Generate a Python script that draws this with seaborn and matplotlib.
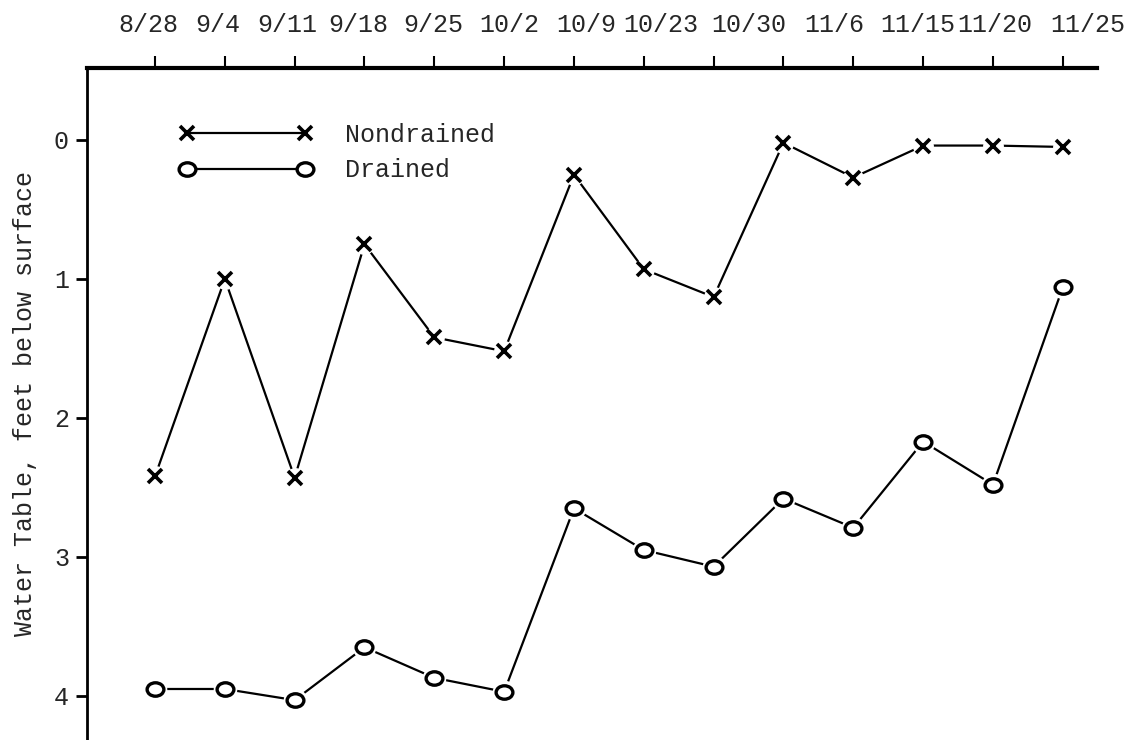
import matplotlib
matplotlib.use('Agg')
import matplotlib.pyplot as plt
import seaborn as sns
from matplotlib.lines import Line2D
from matplotlib.markers import MarkerStyle
from matplotlib.transforms import Affine2D

# readings (feet below surface), one per weekly observation
obs = list(range(14))
nondrained = [2.42, 1.0, 2.43, 0.75, 1.42, 1.52, 0.25, 0.93, 1.13, 0.02, 0.27, 0.04, 0.04, 0.05]
drained = [3.95, 3.95, 4.03, 3.65, 3.87, 3.97, 2.65, 2.95, 3.07, 2.58, 2.79, 2.17, 2.48, 1.06]

# typed date labels along the top (13 labels over the 14 tick marks)
top_labels = ['8/28', '9/4', '9/11', '9/18', '9/25', '10/2', '10/9',
              '10/23', '10/30', '11/6', '11/15', '11/20', '11/25']
label_pos = [-0.09, 0.90, 1.90, 2.91, 3.98, 5.08, 6.18, 7.24, 8.50, 9.73, 10.92, 12.03, 13.36]
y_ticks = [0, 1, 2, 3, 4]

sns.set_style('white')
plt.rcParams['font.family'] = ['Liberation Mono', 'DejaVu Sans Mono']
FS = 18

fig = plt.figure(figsize=(11.31, 7.40), dpi=100)
ax = fig.add_axes([87 / 1131, 0, (1097 - 87) / 1131, (740 - 68) / 740])

oval = MarkerStyle('o', transform=Affine2D().scale(1.15, 0.92))

# connecting lines
sns.lineplot(x=obs, y=nondrained, ax=ax, color='black', lw=1.6, zorder=2)
sns.lineplot(x=obs, y=drained, ax=ax, color='black', lw=1.6, zorder=2)

# white discs leave a small gap between line and symbol
ax.plot(obs, nondrained, ls='none', marker='o', ms=15, mfc='white', mec='none', zorder=3)
ax.plot(obs, drained, ls='none', marker='o', ms=17, mfc='white', mec='none', zorder=3)

ax.plot(obs, nondrained, ls='none', marker='x', ms=10, mew=2.6, color='black', zorder=4)
ax.plot(obs, drained, ls='none', marker=oval, ms=10.5, mew=2.4, mfc='white',
        mec='black', zorder=4)

ax.set_xlim(-0.974, 13.49)
ax.set_ylim(4.317, -0.518)

# top axis: tick marks at each observation, labels typed above
ax.xaxis.set_ticks_position('top')
ax.set_xticks(label_pos)
ax.set_xticklabels(top_labels, fontsize=FS)
ax.set_xticks(obs, minor=True)
ax.tick_params(axis='x', which='major', length=0, pad=22)
ax.tick_params(axis='x', which='minor', top=True, bottom=False, direction='out',
               length=9, width=1.5, color='black')

ax.set_yticks(y_ticks)
ax.set_yticklabels([str(t) for t in y_ticks], fontsize=FS)
ax.tick_params(axis='y', left=True, direction='out', length=8, width=2, pad=5, color='black')
ax.set_ylabel('Water Table, feet below surface', fontsize=FS, labelpad=12)

for side in ['right', 'bottom']:
    ax.spines[side].set_visible(False)
ax.spines['top'].set_linewidth(3)
ax.spines['left'].set_linewidth(2)
ax.spines['top'].set_color('black')
ax.spines['left'].set_color('black')

handles = [
    Line2D([], [], color='black', lw=1.6, marker='x', ms=10, mew=2.6),
    Line2D([], [], color='black', lw=1.6, marker=oval, ms=10.5, mew=2.4, mfc='white', mec='black'),
]
ax.legend(handles, ['Nondrained', 'Drained'], loc='upper left', bbox_to_anchor=(0.092, 0.918),
          frameon=False, numpoints=2, handlelength=5.3, handletextpad=1.3, fontsize=FS,
          borderpad=0, borderaxespad=0, labelspacing=0.45)

fig.savefig('out.png', dpi=100, facecolor='white')
